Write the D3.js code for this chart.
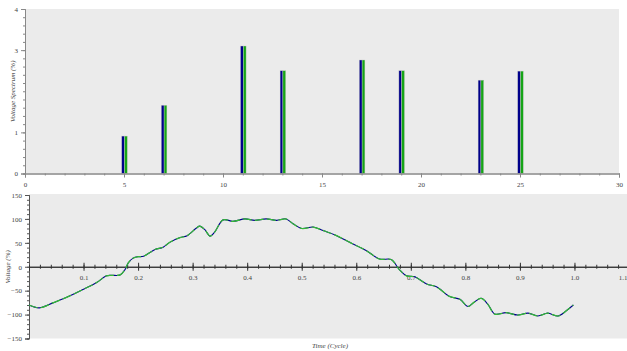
<!DOCTYPE html>
<html>
<head>
<meta charset="utf-8">
<script src="https://cdn.jsdelivr.net/npm/d3@7"></script>
<style>
  body { margin: 0; background: #fff; }
  svg { display: block; }
  text { font-family: "Liberation Serif", "DejaVu Serif", serif; fill: #444; }
</style>
</head>
<body>
<svg width="627" height="351"></svg>
<script>
// harmonic spectrum (top chart)
const harmonics = [5, 7, 11, 13, 17, 19, 23, 25];
const spectrumBlue = [0.91, 1.66, 3.10, 2.50, 2.76, 2.50, 2.27, 2.49];
const spectrumGreen = [0.91, 1.66, 3.10, 2.50, 2.76, 2.50, 2.27, 2.49];
const specYTicks = [0, 1, 3, 4];
const specXTicks = [0, 5, 10, 15, 20, 25, 30];

// waveform (bottom chart)
const timeCycle = [0, 0.019, 0.045, 0.069, 0.1, 0.124, 0.142, 0.152, 0.167, 0.176, 0.182, 0.191, 0.2, 0.21,
  0.231, 0.246, 0.258, 0.277, 0.29, 0.307, 0.313, 0.322, 0.332, 0.34, 0.356, 0.374, 0.396, 0.414, 0.435,
  0.454, 0.471, 0.484, 0.5, 0.521, 0.539, 0.564, 0.588, 0.618, 0.643, 0.664, 0.679, 0.692, 0.707, 0.729,
  0.747, 0.771, 0.79, 0.805, 0.815, 0.829, 0.841, 0.854, 0.875, 0.896, 0.915, 0.933, 0.951, 0.97, 0.985, 0.998];
const voltage = [-80, -86, -75, -64, -47, -33, -19, -18, -17, -6, 8, 18, 21, 22,
  36, 41, 51, 61, 65, 81, 85, 78, 64, 72, 98, 95, 100, 97, 100,
  97, 100, 90, 80, 83, 76, 65, 51, 34, 16, 15, -6, -19, -21, -36,
  -42, -62, -68, -83, -75, -66, -78, -99, -96, -101, -97, -103, -97, -103, -92, -80];
const voltYTicks = [-150, -100, -50, 0, 50, 100, 150];
const timeTicks = [0.1, 0.2, 0.3, 0.4, 0.5, 0.6, 0.7, 0.8, 0.9, 1.0, 1.1];

const svg = d3.select("svg");
const blue = "#00008b";
const green = "#16a516";

// ---------- top chart ----------
const x1 = d3.scaleLinear().domain([0, 30]).range([25, 619]);
const y1 = d3.scaleLinear().domain([0, 4]).range([173.5, 9]);
const side = d3.scaleBand().domain(["blue", "green"]).range([-2.3, 3.3]);

svg.append("rect")
    .attr("x", x1(0)).attr("y", y1(4))
    .attr("width", x1(30) - x1(0)).attr("height", y1(0) - y1(4))
    .attr("fill", "#ebebeb");

// bars: blue and green side by side at each harmonic
const barData = harmonics.flatMap((h, i) => [
    { h: h, s: "blue", v: spectrumBlue[i] },
    { h: h, s: "green", v: spectrumGreen[i] }
]);
svg.append("g").selectAll("rect")
    .data(barData)
    .enter().append("rect")
    .attr("x", d => x1(d.h) + side(d.s))
    .attr("y", d => y1(d.v))
    .attr("width", side.bandwidth())
    .attr("height", d => y1(0) - y1(d.v))
    .attr("fill", d => d.s === "blue" ? blue : green)
    .attr("stroke", "#c8c8c8")
    .attr("stroke-width", 0.4);

// y axis top
const gy1 = svg.append("g").attr("transform", `translate(${x1(0)},0)`);
gy1.call(d3.axisLeft(y1).tickValues(d3.range(0, 4.01, 0.2)).tickSize(2).tickFormat(""));
gy1.call(g => g.append("g").call(d3.axisLeft(y1).tickValues(specYTicks).tickSize(4).tickFormat(d3.format("d"))));
gy1.selectAll("path, line").attr("stroke", "#888");
gy1.selectAll("text").attr("font-size", 7).attr("fill", "#555");

// x axis top
const gx1 = svg.append("g").attr("transform", `translate(0,${y1(0)})`);
gx1.call(d3.axisBottom(x1).tickValues(d3.range(0, 31, 1)).tickSize(2).tickFormat(""));
gx1.call(g => g.append("g").call(d3.axisBottom(x1).tickValues(specXTicks).tickSize(4).tickFormat(d3.format("d"))));
gx1.selectAll("path, line").attr("stroke", "#888");
gx1.selectAll("text").attr("font-size", 7).attr("fill", "#555").attr("dy", "0.9em");

svg.append("text")
    .attr("transform", `translate(15,${(y1(0) + y1(4)) / 2}) rotate(-90)`)
    .attr("text-anchor", "middle")
    .attr("font-size", 7)
    .attr("font-style", "italic")
    .attr("fill", "#666")
    .text("Voltage Spectrum (%)");

// ---------- bottom chart ----------
const x2 = d3.scaleLinear().domain([0, 1.1]).range([29, 629]);
const y2 = d3.scaleLinear().domain([-150, 150]).range([338.5, 195]);

svg.append("rect")
    .attr("x", x2(0)).attr("y", y2(150) - 1)
    .attr("width", 627 - x2(0)).attr("height", y2(-150) - y2(150) + 1)
    .attr("fill", "#ebebeb");

// y axis bottom
const gy2 = svg.append("g").attr("transform", `translate(${x2(0)},0)`);
gy2.call(d3.axisLeft(y2).tickValues(d3.range(-150, 151, 10)).tickSize(2).tickFormat(""));
gy2.call(g => g.append("g").call(d3.axisLeft(y2).tickValues(voltYTicks).tickSize(4).tickFormat(d3.format("d"))));
gy2.selectAll("path, line").attr("stroke", "#555");
gy2.selectAll("text").attr("font-size", 7).attr("fill", "#555");

// x axis bottom, at zero volts
const gx2 = svg.append("g").attr("transform", `translate(0,${y2(0)})`);
gx2.call(d3.axisBottom(x2).tickValues(d3.range(0, 1.101, 0.02)).tickSize(2).tickFormat(""));
gx2.selectAll(".tick line").attr("y1", -2);
gx2.call(g => g.append("g").call(d3.axisBottom(x2).tickValues(timeTicks).tickSize(4).tickFormat(d3.format(".1f"))));
gx2.selectAll("g g .tick line").attr("y1", -4);
gx2.selectAll("path, line").attr("stroke", "#333");
gx2.selectAll("text").attr("font-size", 7).attr("fill", "#555").attr("dy", "0.9em");
// last label sits at the right edge: anchor it so it stays inside
gx2.selectAll("g g .tick text").filter(d => d === 1.1)
    .attr("text-anchor", "end").attr("x", -2);

// waveform lines
const wave = timeCycle.map((t, i) => [t, voltage[i]]);
const line = d3.line()
    .x(d => x2(d[0]))
    .y(d => y2(d[1]))
    .curve(d3.curveCatmullRom.alpha(0.5));

svg.append("path")
    .datum(wave)
    .attr("d", line)
    .attr("fill", "none")
    .attr("stroke", blue)
    .attr("stroke-width", 1.1);

svg.append("path")
    .datum(wave)
    .attr("d", line)
    .attr("fill", "none")
    .attr("stroke", "#33bb33")
    .attr("stroke-width", 1.2)
    .attr("stroke-dasharray", "9,3");

svg.append("text")
    .attr("transform", `translate(10,${y2(0)}) rotate(-90)`)
    .attr("text-anchor", "middle")
    .attr("font-size", 7)
    .attr("font-style", "italic")
    .attr("fill", "#666")
    .text("Voltage (%)");

svg.append("text")
    .attr("x", 330).attr("y", 348)
    .attr("text-anchor", "middle")
    .attr("font-size", 7)
    .attr("font-style", "italic")
    .attr("fill", "#555")
    .text("Time  (Cycle)");
</script>
</body>
</html>
